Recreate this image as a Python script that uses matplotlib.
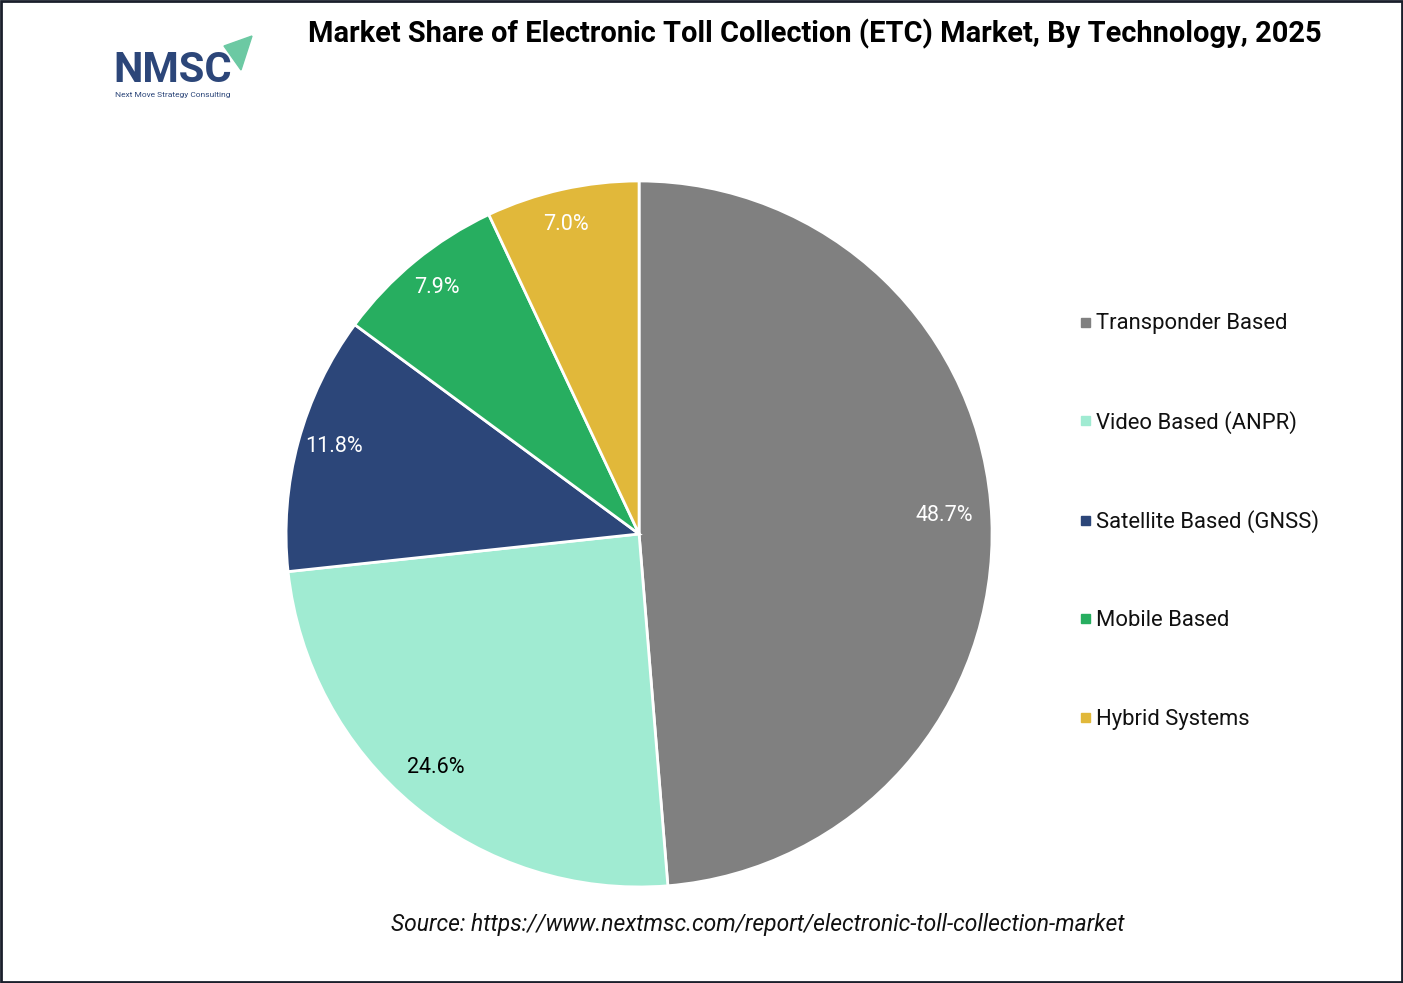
import matplotlib.pyplot as plt
from matplotlib.patches import Polygon, Rectangle

plt.rcParams['font.family'] = ['Roboto', 'DejaVu Sans']

# Datos del grafico
categorias = ["Transponder Based", "Video Based (ANPR)", "Satellite Based (GNSS)",
              "Mobile Based", "Hybrid Systems"]
cuotas = [48.7, 24.6, 11.8, 7.9, 7.0]
colores = ["#808080", "#A0EBD2", "#2C4679", "#27AE60", "#E1B83A"]
color_texto = ["white", "black", "white", "white", "white"]

fig = plt.figure(figsize=(14.03, 9.83), dpi=100)

# Pie
ax = fig.add_axes([0.4555 - 0.2516, 0.4568 - 0.3591, 0.5032, 0.7182])
wedges, textos, autotextos = ax.pie(
    cuotas, colors=colores, startangle=90, counterclock=False,
    autopct="%.1f%%", pctdistance=0.88,
    wedgeprops=dict(edgecolor="white", linewidth=2),
    textprops=dict(fontsize=15.5))
# pequeño ajuste de las etiquetas (radio = 353 px)
for t, c in zip(autotextos, color_texto):
    t.set_color(c)
    x, y = t.get_position()
    t.set_position((x - 5 / 353, y + 6 / 353))
ax.set_xlim(-1, 1)
ax.set_ylim(-1, 1)
ax.set_aspect("equal")

# Leyenda
y_leg = [322, 421, 520, 618, 717]
for nombre, col, y in zip(categorias, colores, y_leg):
    yf = 1 - y / 983
    fig.patches.append(Rectangle((1081 / 1403, yf - 4.5 / 983), 9 / 1403, 9 / 983,
                                 transform=fig.transFigure, color=col))
    fig.text(1096 / 1403, yf - 2 / 983, nombre, fontsize=15.8, va="center", ha="left",
             color="#111111")

# Titulo
fig.text(815 / 1403, 1 - 34 / 983,
         "Market Share of Electronic Toll Collection (ETC) Market, By Technology, 2025",
         fontsize=20.9, fontweight="bold", ha="center", va="center", color="black")

# Fuente
fig.text(758 / 1403, 1 - 925 / 983,
         "Source: https://www.nextmsc.com/report/electronic-toll-collection-market",
         fontsize=16.5, style="italic", ha="center", va="center", color="#111111")

# Logo
fig.text(113 / 1403, 1 - 70 / 983, "NMSC", fontsize=30, fontweight="bold",
         color="#2C4679", ha="left", va="center")
fig.text(115 / 1403, 1 - 95 / 983, "Next Move Strategy Consulting", fontsize=6,
         color="#2C4679", ha="left", va="center")
fig.patches.append(Polygon([(224 / 1403, 1 - 46 / 983), (252 / 1403, 1 - 36 / 983),
                            (241 / 1403, 1 - 70 / 983)],
                           closed=True, transform=fig.transFigure, color="#6CC9A3"))

# Borde
fig.patches.append(Rectangle((0.0005, 0.0008), 0.999, 0.9985, transform=fig.transFigure,
                             fill=False, edgecolor="#1a1f2b", linewidth=2))

plt.savefig("out.png", dpi=100)
